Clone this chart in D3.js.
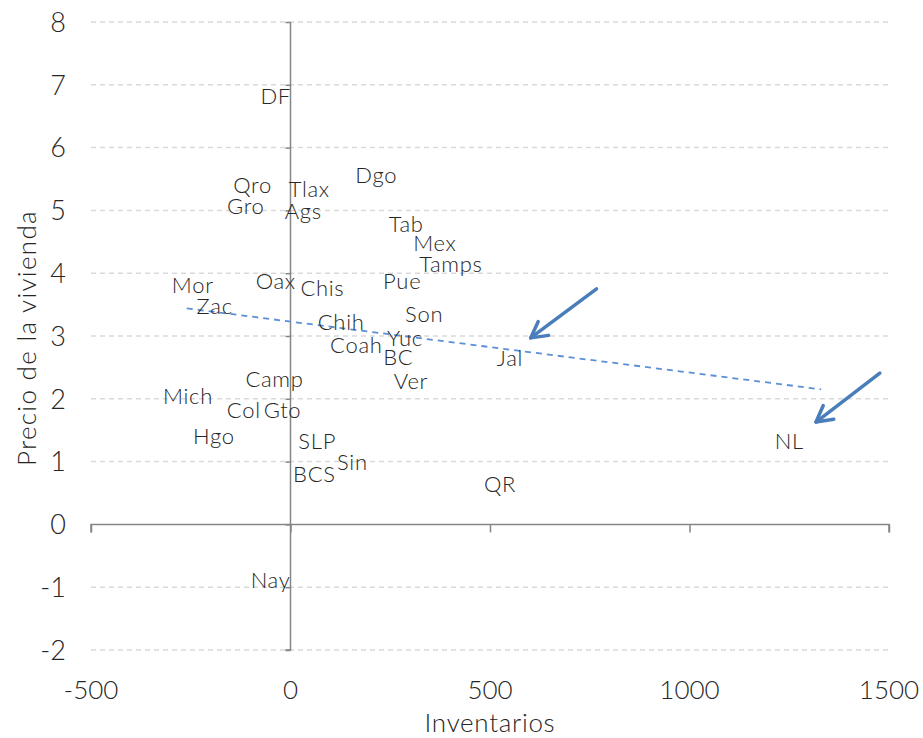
<!DOCTYPE html>
<html>
<head>
<meta charset="utf-8">
<script src="https://cdn.jsdelivr.net/npm/d3@7"></script>
<style>
  body { margin: 0; background: #fff; }
  svg text { font-family: Lato, "Open Sans", sans-serif; font-weight: 300; }
</style>
</head>
<body>
<svg id="chart" width="923" height="738"></svg>
<script>
// ---- data ----
const states = ["DF","Dgo","Qro","Tlax","Gro","Ags","Tab","Mex","Tamps","Mor","Oax","Chis","Pue","Zac","Son","Chih","Yuc","Coah","BC","Jal","Ver","Camp","Mich","Col","Gto","Hgo","SLP","Sin","BCS","QR","NL","Nay"];
const inventarios = [-37, 215, -95, 47, -112, 32, 290, 362, 402, -245, -37, 80, 280, -190, 335, 127, 287, 165, 270, 550, 302, -40, -257, -117, -20, -192, 67, 155, 60, 525, 1250, -50];
const precio = [6.82, 5.56, 5.40, 5.34, 5.07, 4.99, 4.78, 4.48, 4.14, 3.81, 3.87, 3.76, 3.87, 3.47, 3.35, 3.22, 2.96, 2.85, 2.66, 2.65, 2.28, 2.31, 2.04, 1.82, 1.82, 1.40, 1.32, 1.00, 0.80, 0.64, 1.32, -0.89];
const trendX = [-260, 1330];
const trendY = [3.44, 2.15];
const arrowStartX = [767, 1477];
const arrowStartY = [3.75, 2.41];
const arrowEndX = [602, 1317];
const arrowEndY = [2.97, 1.63];
const xTicks = [-500, 0, 500, 1000, 1500];
const yTicks = [-2, -1, 0, 1, 2, 3, 4, 5, 6, 7, 8];
const xTitle = "Inventarios";
const yTitle = "Precio de la vivienda";

// ---- chart ----
const svg = d3.select("#chart");
const x = d3.scaleLinear().domain([-500, 1500]).range([91, 889]);
const y = d3.scaleLinear().domain([-2, 8]).range([650, 22]);
const textColor = "#262626";

// gridlines
svg.append("g").selectAll("line")
  .data(yTicks.filter(d => d !== 0))
  .join("line")
  .attr("x1", x(-500)).attr("x2", x(1500))
  .attr("y1", d => y(d)).attr("y2", d => y(d))
  .attr("stroke", "#d9d9d9").attr("stroke-width", 1.5)
  .attr("stroke-dasharray", "5,4");

// x axis at y=0
const xAxis = svg.append("g")
  .attr("transform", `translate(0,${y(0)})`)
  .call(d3.axisBottom(x).tickValues(xTicks).tickSize(8).tickFormat(() => ""));
xAxis.select(".domain").attr("stroke", "#868686").attr("stroke-width", 1.5)
  .attr("d", `M${x(-500)},8V0H${x(1500)}V8`);
xAxis.selectAll(".tick line").attr("stroke", "#868686").attr("stroke-width", 1.5);

// y axis at x=0
const yAxis = svg.append("g")
  .attr("transform", `translate(${x(0)},0)`)
  .call(d3.axisLeft(y).tickValues(yTicks).tickSize(5).tickFormat(() => ""));
yAxis.select(".domain").attr("stroke", "#868686").attr("stroke-width", 1.5)
  .attr("d", `M0,${y(8)}V${y(-2)}H-5`);
yAxis.selectAll(".tick line").attr("stroke", "#868686").attr("stroke-width", 1.5);

// y tick labels at left
svg.append("g").selectAll("text")
  .data(yTicks).join("text")
  .attr("x", 66).attr("y", d => y(d))
  .attr("dy", "0.36em").attr("text-anchor", "end")
  .attr("font-size", 27).attr("fill", textColor)
  .text(d => d);

// x tick labels at bottom
svg.append("g").selectAll("text")
  .data(xTicks).join("text")
  .attr("x", d => x(d)).attr("y", 690)
  .attr("dy", "0.36em").attr("text-anchor", "middle")
  .attr("font-size", 26).attr("fill", textColor)
  .text(d => d);

// axis titles
svg.append("text").attr("x", (x(-500)+x(1500))/2).attr("y", 723)
  .attr("dy", "0.35em").attr("text-anchor", "middle")
  .attr("font-size", 26).attr("letter-spacing", 0.7)
  .attr("fill", textColor).text(xTitle);
svg.append("text")
  .attr("transform", `translate(27,${(y(8)+y(-2))/2 + 2}) rotate(-90)`)
  .attr("dy", "0.35em").attr("text-anchor", "middle")
  .attr("font-size", 26).attr("letter-spacing", 1.3)
  .attr("fill", textColor).text(yTitle);

// trendline
svg.append("line")
  .attr("x1", x(trendX[0])).attr("y1", y(trendY[0]))
  .attr("x2", x(trendX[1])).attr("y2", y(trendY[1]))
  .attr("stroke", "#5b8fd6").attr("stroke-width", 1.8)
  .attr("stroke-dasharray", "6,5");

// labels
svg.append("g").selectAll("text")
  .data(states).join("text")
  .attr("x", (d, i) => x(inventarios[i]))
  .attr("y", (d, i) => y(precio[i]))
  .attr("dy", "0.36em").attr("text-anchor", "middle")
  .attr("font-size", 22).attr("letter-spacing", 0.7)
  .attr("fill", textColor)
  .text(d => d);

// arrows
const arrowColor = "#4a7ebb";
arrowStartX.forEach((sx, i) => {
  const x1 = x(sx), y1 = y(arrowStartY[i]), x2 = x(arrowEndX[i]), y2 = y(arrowEndY[i]);
  const ang = Math.atan2(y2 - y1, x2 - x1);
  const hl = 18, ha = 0.5;
  svg.append("line").attr("x1", x1).attr("y1", y1).attr("x2", x2).attr("y2", y2)
    .attr("stroke", arrowColor).attr("stroke-width", 3.5).attr("stroke-linecap", "round");
  const p1 = [x2 - hl * Math.cos(ang - ha), y2 - hl * Math.sin(ang - ha)];
  const p2 = [x2 - hl * Math.cos(ang + ha), y2 - hl * Math.sin(ang + ha)];
  svg.append("path").attr("d", `M${p1[0]},${p1[1]}L${x2},${y2}L${p2[0]},${p2[1]}`)
    .attr("fill", "none").attr("stroke", arrowColor).attr("stroke-width", 3.5)
    .attr("stroke-linecap", "round").attr("stroke-linejoin", "round");
});
</script>
</body>
</html>
